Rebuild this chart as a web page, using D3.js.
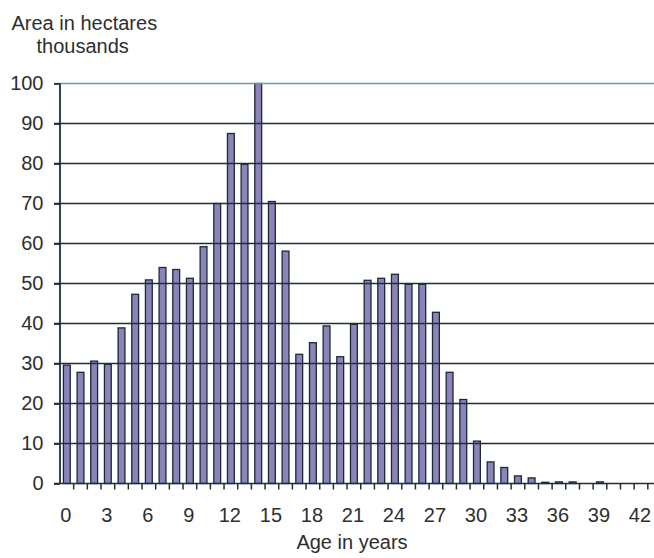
<!DOCTYPE html>
<html>
<head>
<meta charset="utf-8">
<script src="https://cdn.jsdelivr.net/npm/d3@7"></script>
<style>
  html, body { margin: 0; padding: 0; background: #ffffff; }
  svg { display: block; }
</style>
</head>
<body>
<svg id="chart" width="654" height="558"></svg>
<script>
// Age in years (categories)
const ages = d3.range(0, 44);
// Area in hectares (thousands)
const areaValues = [29.6, 27.8, 30.6, 29.8, 38.9, 47.3, 50.9, 54.0, 53.5, 51.3,
                    59.2, 70.0, 87.5, 79.8, 100, 70.5, 58.1, 32.3, 35.2, 39.4,
                    31.7, 39.8, 50.8, 51.3, 52.3, 49.8, 49.8, 42.8, 27.8, 21.0,
                    10.6, 5.4, 4.0, 1.9, 1.4, 0.3, 0.4, 0.4, 0, 0.4,
                    0, 0, 0, 0];
const xTickLabels = [0, 3, 6, 9, 12, 15, 18, 21, 24, 27, 30, 33, 36, 39, 42];
const yTickValues = [0, 10, 20, 30, 40, 50, 60, 70, 80, 90, 100];
const yTitleLines = ["Area in hectares", "thousands"];
const xTitle = "Age in years";

(function () {
const svg = d3.select("#chart");
const mLeft = 60, mBottom = 483.5, mTop = 83.5, step = 13.67;

const x = d3.scaleBand().domain(ages).range([mLeft, mLeft + ages.length * step]).padding(0);
const y = d3.scaleLinear().domain([0, 100]).range([mBottom, mTop]);

const font = "'Liberation Sans', Arial, Helvetica, sans-serif";
const textColor = "#2e2e2e";
const lineColor = "#1e2f37";

// bars
const bw = x.bandwidth();
svg.append("g").selectAll("rect")
  .data(ages)
  .join("rect")
  .attr("x", d => x(d) + bw * 0.25)
  .attr("width", bw * 0.5)
  .attr("y", d => y(areaValues[d]))
  .attr("height", d => y(0) - y(areaValues[d]))
  .attr("fill", "#8a84bb")
  .attr("stroke", "#1c2935")
  .attr("stroke-width", 1.3);

// gridlines (drawn over bars)
svg.append("g").selectAll("line")
  .data(yTickValues)
  .join("line")
  .attr("x1", mLeft - 6)
  .attr("x2", 654)
  .attr("y1", d => y(d))
  .attr("y2", d => y(d))
  .attr("stroke", d => d === 100 ? "#6f97aa" : lineColor)
  .attr("stroke-width", 1.7);

// y axis
const yAxis = svg.append("g")
  .attr("transform", `translate(${mLeft},0)`)
  .call(d3.axisLeft(y).tickValues(yTickValues).tickSize(6).tickPadding(10.5));
yAxis.select(".domain").attr("stroke", lineColor).attr("stroke-width", 1.8)
  .attr("d", `M0,${y(100)}V${y(0)}`);
yAxis.selectAll(".tick line").attr("stroke", lineColor).attr("stroke-width", 1.7);
yAxis.selectAll(".tick text")
  .attr("font-family", font).attr("font-size", 20).attr("fill", textColor);

// x axis tick marks at band boundaries
svg.append("g").selectAll("line")
  .data(ages.slice(1))
  .join("line")
  .attr("x1", d => x(d)).attr("x2", d => x(d))
  .attr("y1", mBottom).attr("y2", mBottom + 6)
  .attr("stroke", lineColor).attr("stroke-width", 1.5);

// x axis labels
const xAxis = svg.append("g")
  .attr("transform", `translate(-1,${mBottom})`)
  .call(d3.axisBottom(x).tickValues(xTickLabels).tickSize(0).tickPadding(24));
xAxis.select(".domain").remove();
xAxis.selectAll(".tick text")
  .attr("font-family", font).attr("font-size", 20).attr("fill", textColor);

// titles
svg.append("text")
  .attr("x", 11.5).attr("y", 29.5)
  .attr("font-family", font).attr("font-size", 20).attr("fill", textColor)
  .text(yTitleLines[0]);
svg.append("text")
  .attr("x", 36.5).attr("y", 53)
  .attr("font-family", font).attr("font-size", 20).attr("fill", textColor)
  .text(yTitleLines[1]);
svg.append("text")
  .attr("x", 352).attr("y", 549)
  .attr("text-anchor", "middle")
  .attr("font-family", font).attr("font-size", 20).attr("fill", textColor)
  .text(xTitle);
})();
</script>
</body>
</html>
